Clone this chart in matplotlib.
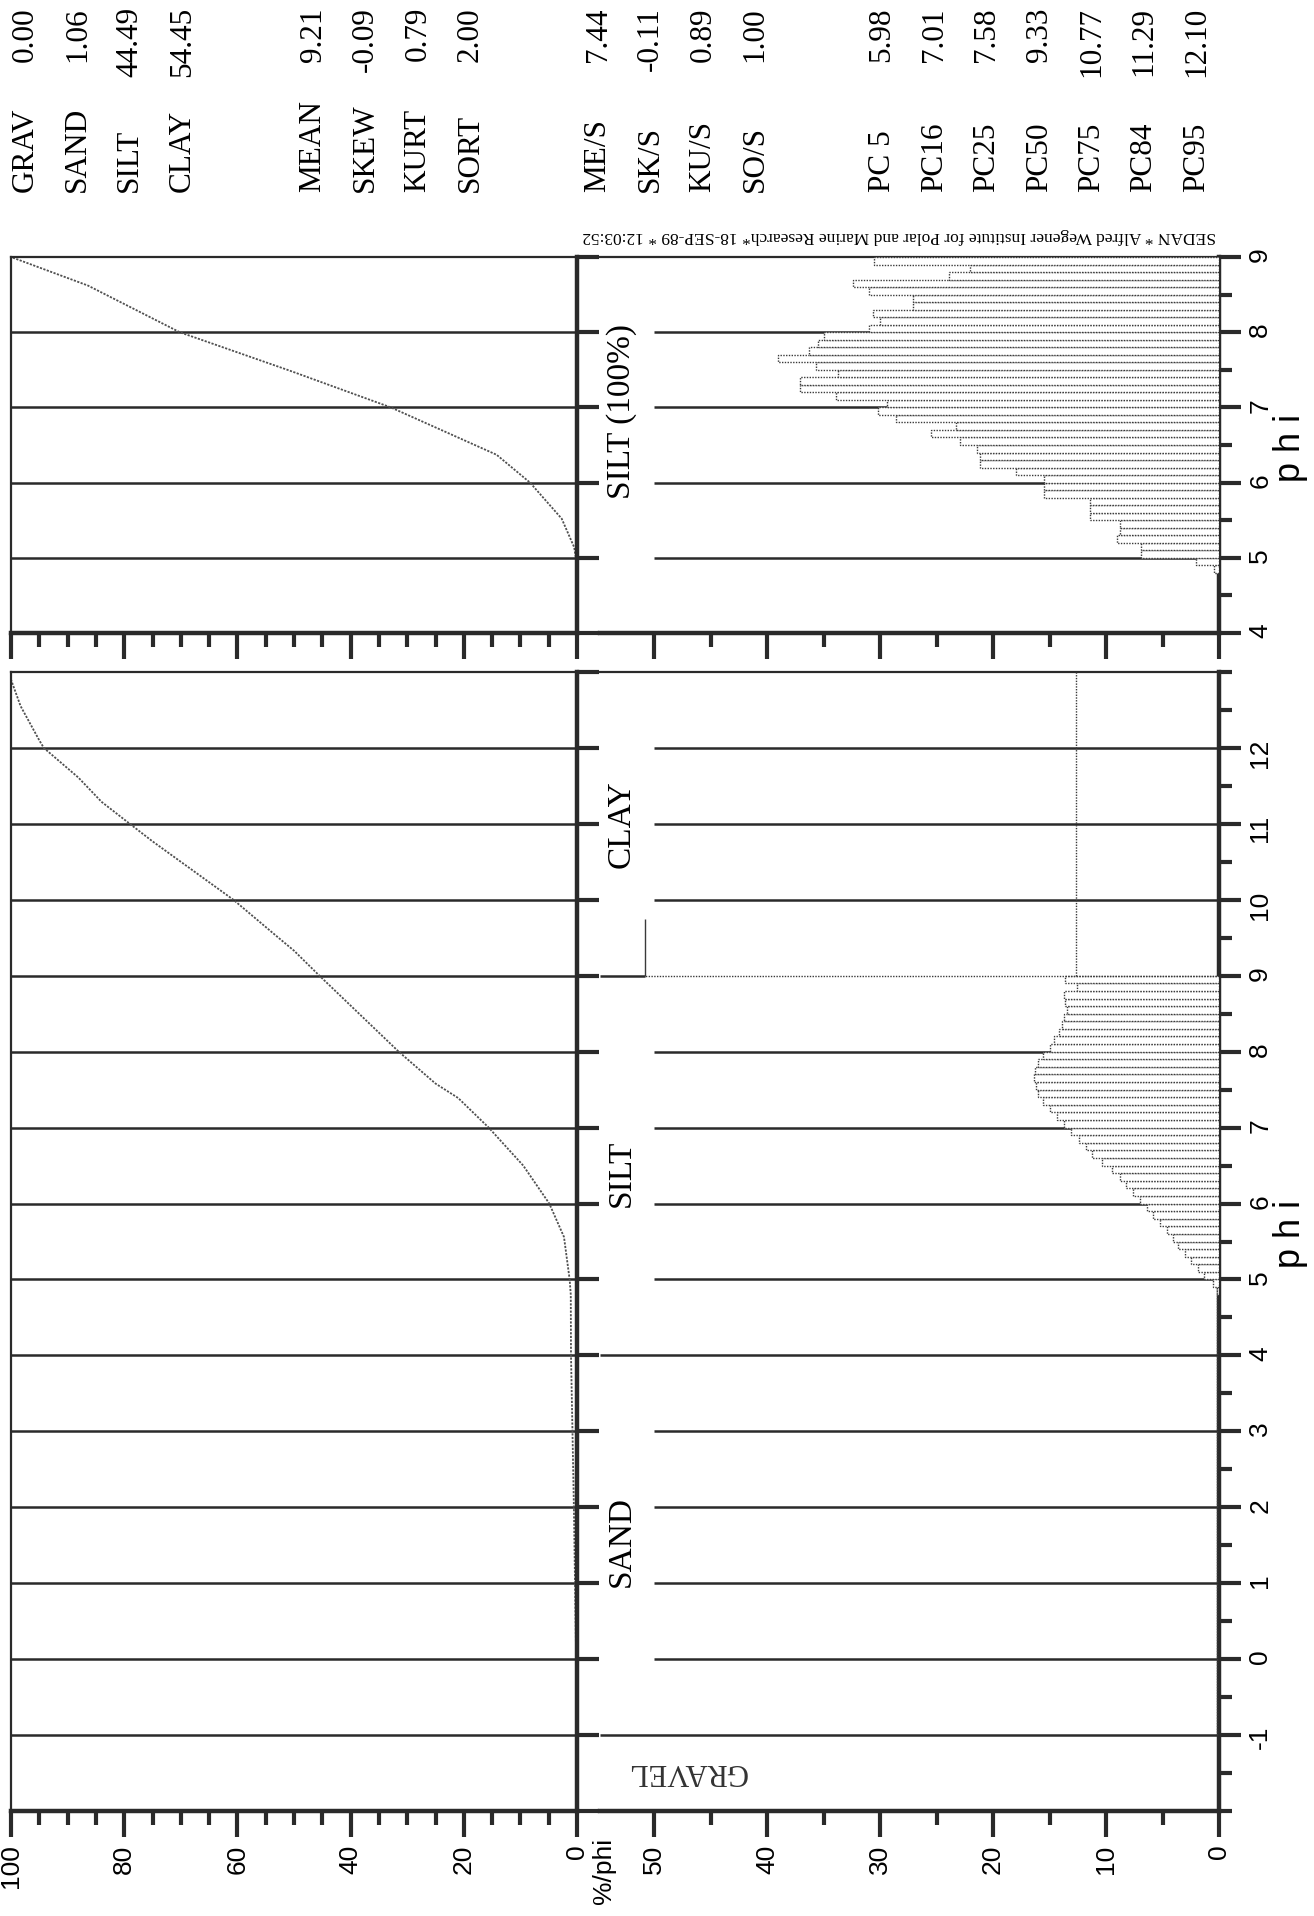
import matplotlib.pyplot as plt
import numpy as np
from matplotlib.ticker import MultipleLocator

W, H = 1314, 1916
SERIF = 'Liberation Serif'
SANS = 'Liberation Sans'

# ---- data ----
# cumulative curve, whole sample (phi, cum %)
cum_phi = [-2, -1, 0, 1, 2, 3, 4, 4.8, 5.0, 5.56, 6.0, 6.5, 7.0, 7.39, 7.58, 8.0, 8.5,
           9.0, 9.33, 9.51, 10.0, 10.49, 10.77, 11.0, 11.29, 11.61, 12.0, 12.1, 12.55, 12.9]
cum_pct = [0, 0, 0.15, 0.35, 0.55, 0.8, 1.06, 1.1, 1.3, 2.3, 4.9, 9.5, 15.6, 21.0, 25.0, 31.5, 38.5,
           45.5, 50.0, 52.9, 60.7, 69.8, 75.0, 79.0, 84.0, 88.1, 94.2, 95.0, 98.3, 100]

# cumulative curve, silt only (phi, cum %)
silt_cum_phi = [4, 4.8, 5.0, 5.14, 5.52, 6.0, 6.37, 7.0, 7.49, 8.0, 8.62, 9.0]
silt_cum_pct = [0, 0, 0.2, 0.5, 2.7, 8.3, 14.2, 32.9, 50.8, 70.2, 86.4, 100]

# histogram bins (0.1 phi, lower edges)
bin_lo = [4.8, 4.9, 5.0, 5.1, 5.2, 5.3, 5.4, 5.5, 5.6, 5.7, 5.8, 5.9, 6.0, 6.1, 6.2, 6.3, 6.4,
          6.5, 6.6, 6.7, 6.8, 6.9, 7.0, 7.1, 7.2, 7.3, 7.4, 7.5, 7.6, 7.7, 7.8, 7.9, 8.0, 8.1,
          8.2, 8.3, 8.4, 8.5, 8.6, 8.7, 8.8, 8.9]
# %/phi, whole sample
hist_all = [0.2, 0.5, 1.3, 1.9, 2.5, 3.0, 3.6, 4.1, 4.6, 5.2, 5.8, 6.4, 7.0, 7.6, 8.2, 8.8, 9.5,
            10.4, 11.2, 11.8, 12.4, 13.1, 13.7, 14.3, 15.0, 15.6, 16.0, 16.2, 16.4, 16.3, 16.0, 15.6,
            15.0, 14.6, 14.2, 13.9, 13.7, 13.5, 13.6, 13.7, 12.6, 13.6]
# %/phi, silt = 100 %
hist_silt = [0.4, 2.0, 6.9, 6.9, 9.0, 8.8, 8.8, 11.4, 11.4, 11.4, 15.5, 15.5, 15.5, 18.0, 21.2, 21.2,
             21.4, 22.9, 25.5, 23.3, 28.6, 30.2, 29.4, 33.9, 37.1, 37.1, 33.7, 35.7, 39.0, 36.3, 35.5,
             35.0, 31.0, 30.0, 30.6, 27.1, 27.1, 31.0, 32.4, 23.9, 22.0, 30.5]
sand_level = 0.2      # %/phi from -1 to 4.8
clay_level = 12.7     # %/phi from 9 to 13
clay_mark = 50.8      # short line at phi 9 - 9.75

stat_groups = [
    (['GRAV', 'SAND', 'SILT', 'CLAY'], [0.00, 1.06, 44.49, 54.45]),
    (['MEAN', 'SKEW', 'KURT', 'SORT'], [9.21, -0.09, 0.79, 2.00]),
    (['ME/S', 'SK/S', 'KU/S', 'SO/S'], [7.44, -0.11, 0.89, 1.00]),
    (['PC 5', 'PC16', 'PC25', 'PC50', 'PC75', 'PC84', 'PC95'],
     [5.98, 7.01, 7.58, 9.33, 10.77, 11.29, 12.10]),
]
group_x = [25, 313, 598, 882]

fig = plt.figure(figsize=(W / 100, H / 100), dpi=100)


def add_ax(x0, y0, x1, y1):
    return fig.add_axes([x0 / W, 1 - y1 / H, (x1 - x0) / W, (y1 - y0) / H])


def ftext(x, y, s, **kw):
    fig.text(x / W, 1 - y / H, s, **kw)


ink = '#2a2a2a'
thin = 1.6
thick = 3.2
TICKFS = 19


def style(ax, lo, hi, xmax, xmaj, xmin, left_spine, phi_labels):
    ax.set_ylim(lo, hi)
    ax.set_xlim(xmax, 0)
    for s in ['top', 'left']:
        ax.spines[s].set_linewidth(thin)
        ax.spines[s].set_color(ink)
    for s in ['bottom', 'right']:
        ax.spines[s].set_linewidth(thick)
        ax.spines[s].set_color(ink)
    ax.spines['left'].set_visible(left_spine)
    ax.xaxis.set_major_locator(MultipleLocator(xmaj))
    ax.xaxis.set_minor_locator(MultipleLocator(xmin))
    ax.tick_params(axis='x', which='major', direction='out', length=19, width=3, color=ink,
                   bottom=True, top=False, labelsize=TICKFS, labelrotation=90, pad=5)
    ax.tick_params(axis='x', which='minor', direction='out', length=10, width=3, color=ink,
                   bottom=True, top=False)
    ax.yaxis.set_major_locator(MultipleLocator(1))
    ax.tick_params(axis='y', which='major', direction='out', length=16, width=3, color=ink,
                   left=False, right=True, labelleft=False, labelright=phi_labels,
                   labelsize=TICKFS, labelrotation=90, pad=5)
    ax.set_facecolor('none')
    for lab in ax.get_xticklabels() + ax.get_yticklabels():
        lab.set_family(SANS)


# ---- main panel: whole sample, phi -2 .. 13 ----
cumL = add_ax(11, 672, 577, 1811)
style(cumL, -2, 13, 100, 20, 5, True, False)
cumL.hlines(np.arange(-1, 13), 0, 100, color=ink, lw=1.8)
cumL.plot(cum_pct, cum_phi, color='#505050', lw=1.3, ls=(0, (1.2, 0.8)))
cumL.set_yticklabels([])

histL = add_ax(600, 672, 1219, 1811)
style(histL, -2, 13, 54.8, 10, 5, False, True)
histL.yaxis.set_minor_locator(MultipleLocator(0.5))
histL.tick_params(axis='y', which='minor', direction='out', length=9, width=3, color=ink,
                  left=False, right=True)
histL.set_yticks(np.arange(-1, 13))
histL.set_xticklabels([str(int(v)) for v in histL.get_xticks()])
histL.set_yticklabels([str(int(v)) for v in np.arange(-1, 13)], family=SANS)
histL.hlines([0, 1, 2, 3, 5, 6, 7, 8, 10, 11, 12], 0, 50, color=ink, lw=1.8, zorder=1)
histL.hlines([-1, 4], 0, 54.8, color=ink, lw=1.8, zorder=1)
histL.hlines(9, clay_mark, 54.8, color=ink, lw=1.8, zorder=1)
centers = np.array(bin_lo) + 0.05
histL.barh(centers, hist_all, height=0.1, left=0, color='white', edgecolor='#3a3a3a',
           linestyle=(0, (1, 1)), linewidth=1.0, zorder=3)
histL.hlines(9, 0, clay_mark, color='#3a3a3a', lw=1.0, ls=(0, (1, 1)), zorder=3)
histL.vlines(clay_mark, 9, 9.75, color='#3a3a3a', lw=1.0, zorder=3)
histL.vlines(clay_level, 9, 13, color='#3a3a3a', lw=1.0, ls=(0, (1, 1)), zorder=3)
histL.vlines(sand_level, -1, 4.8, color='#3a3a3a', lw=1.0, ls=(0, (1, 1)), zorder=3)

# ---- small panel: silt = 100 %, phi 4 .. 9 ----
cumR = add_ax(11, 257, 577, 633)
style(cumR, 4, 9, 100, 20, 5, True, False)
cumR.set_xticklabels([])
cumR.set_yticklabels([])
cumR.hlines([5, 6, 7, 8], 0, 100, color=ink, lw=1.8)
cumR.plot(silt_cum_pct, silt_cum_phi, color='#505050', lw=1.3, ls=(0, (1.2, 0.8)))

histR = add_ax(600, 257, 1219, 633)
style(histR, 4, 9, 54.8, 10, 5, False, True)
histR.yaxis.set_minor_locator(MultipleLocator(0.5))
histR.tick_params(axis='y', which='minor', direction='out', length=9, width=3, color=ink,
                  left=False, right=True)
histR.set_xticklabels([])
histR.set_yticks(np.arange(4, 10))
histR.set_yticklabels([str(v) for v in range(4, 10)], family=SANS)
histR.hlines([5, 6, 7, 8], 0, 50, color=ink, lw=1.8, zorder=1)
histR.barh(centers, hist_silt, height=0.1, left=0, color='white', edgecolor='#3a3a3a',
           linestyle=(0, (1, 1)), linewidth=1.0, zorder=3)

# ---- labels ----
ftext(604, 1838, '%/phi', rotation=90, ha='center', va='top', fontsize=TICKFS, family=SANS)
ftext(1291, 1234, 'p h i', rotation=90, ha='center', va='center', fontsize=26, family=SANS)
ftext(1291, 448, 'p h i', rotation=90, ha='center', va='center', fontsize=26, family=SANS)

for name, phi in [('SAND', 1.55), ('SILT', 6.4), ('CLAY', 11.0)]:
    histL.text(52.9, phi, name, rotation=90, ha='center', va='center', fontsize=24, family=SERIF)
histR.text(52.9, 6.95, 'SILT (100%)', rotation=90, ha='center', va='center', fontsize=24,
           family=SERIF)
histL.text(47.1, -1.48, 'GRAVEL', rotation=180, ha='center', va='center', fontsize=22,
           family=SERIF, color='#333333')
ftext(1216, 236, 'SEDAN * Alfred Wegener Institute for Polar and Marine Research* 18-SEP-89 * 12:03:52',
      rotation=180, ha='right', va='center', fontsize=12.5, family=SERIF)

for (names, vals), x0 in zip(stat_groups, group_x):
    for i, (n, v) in enumerate(zip(names, vals)):
        x = x0 + i * 52.4
        ftext(x, 192, n, rotation=90, ha='center', va='bottom', fontsize=22.5, family=SERIF)
        ftext(x, 7, '%.2f' % v, rotation=90, ha='center', va='top', fontsize=22.5, family=SERIF)

fig.savefig('out.png', dpi=100, facecolor='white')
